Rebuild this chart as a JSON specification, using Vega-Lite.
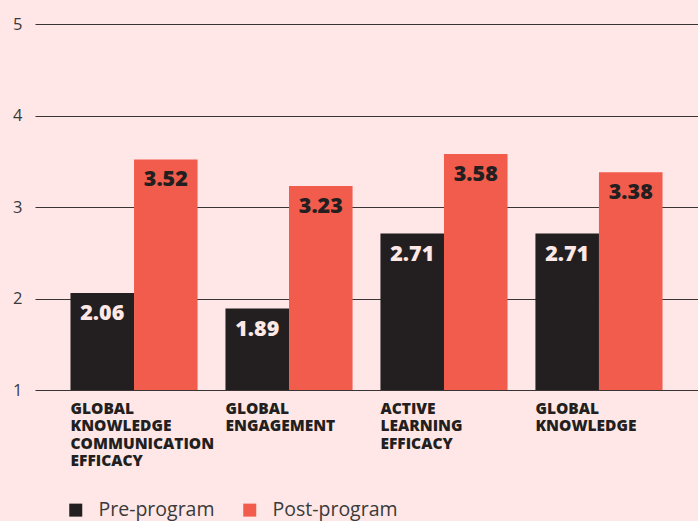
{
  "$schema": "https://vega.github.io/schema/vega-lite/v6.json",
  "width": 663,
  "height": 366,
  "autosize": {"type": "none"},
  "padding": {"left": 35, "top": 24, "right": 0, "bottom": 131},
  "background": "#fee7e6",
  "config": {
    "view": {"stroke": null},
    "font": "Open Sans"
  },
  "data": {
    "values": [
      {"category": "GLOBAL|KNOWLEDGE|COMMUNICATION|EFFICACY", "phase": "Pre-program", "value": 2.06},
      {"category": "GLOBAL|KNOWLEDGE|COMMUNICATION|EFFICACY", "phase": "Post-program", "value": 3.52},
      {"category": "GLOBAL|ENGAGEMENT", "phase": "Pre-program", "value": 1.89},
      {"category": "GLOBAL|ENGAGEMENT", "phase": "Post-program", "value": 3.23},
      {"category": "ACTIVE|LEARNING|EFFICACY", "phase": "Pre-program", "value": 2.71},
      {"category": "ACTIVE|LEARNING|EFFICACY", "phase": "Post-program", "value": 3.58},
      {"category": "GLOBAL|KNOWLEDGE", "phase": "Pre-program", "value": 2.71},
      {"category": "GLOBAL|KNOWLEDGE", "phase": "Post-program", "value": 3.38}
    ]
  },
  "encoding": {
    "x": {
      "field": "category",
      "type": "nominal",
      "sort": null,
      "scale": {"paddingInner": 0.18, "paddingOuter": 0.229},
      "axis": {
        "title": null,
        "domain": false,
        "ticks": false,
        "labelAngle": 0,
        "labelAlign": "left",
        "labelBaseline": "top",
        "labelOffset": -63.5,
        "labelPadding": 11,
        "labelExpr": "split(datum.value, '|')",
        "labelFont": "Open Sans",
        "labelFontWeight": 800,
        "labelFontSize": 15.5,
        "labelLineHeight": 17.5,
        "labelColor": "#231f20",
        "labelLimit": 300
      }
    },
    "xOffset": {"field": "phase", "type": "nominal", "sort": ["Pre-program", "Post-program"]},
    "y": {
      "field": "value",
      "type": "quantitative",
      "scale": {"domain": [1, 5], "zero": false, "nice": false},
      "axis": {
        "title": null,
        "domain": false,
        "ticks": false,
        "values": [1, 2, 3, 4, 5],
        "labelFont": "Open Sans",
        "labelFontSize": 16.5,
        "labelColor": "#3a3a3a",
        "labelPadding": 13,
        "gridColor": "#3a3535",
        "gridWidth": 1.2,
        "gridOpacity": 1
      }
    }
  },
  "layer": [
    {
      "mark": {"type": "bar"},
      "encoding": {
        "y2": {"datum": 1},
        "color": {
          "field": "phase",
          "type": "nominal",
          "scale": {"domain": ["Pre-program", "Post-program"], "range": ["#231f20", "#f25c4c"]},
          "legend": {
            "title": null,
            "orient": "none",
            "direction": "horizontal",
            "legendX": 31,
            "legendY": 476,
            "symbolType": "square",
            "symbolSize": 169,
            "symbolStrokeWidth": 0,
            "labelFont": "Open Sans",
            "labelFontSize": 19.5,
            "labelColor": "#3a3a3a",
            "labelOffset": 13,
            "columnPadding": 25
          }
        }
      }
    },
    {
      "mark": {"type": "text", "baseline": "top", "dy": 10, "font": "Open Sans", "fontWeight": 800, "fontSize": 21.5},
      "encoding": {
        "text": {"field": "value", "type": "quantitative", "format": ".2f"},
        "color": {
          "condition": {"test": "datum.phase === 'Pre-program'", "value": "#fde8e6"},
          "value": "#231f20"
        }
      }
    }
  ]
}
